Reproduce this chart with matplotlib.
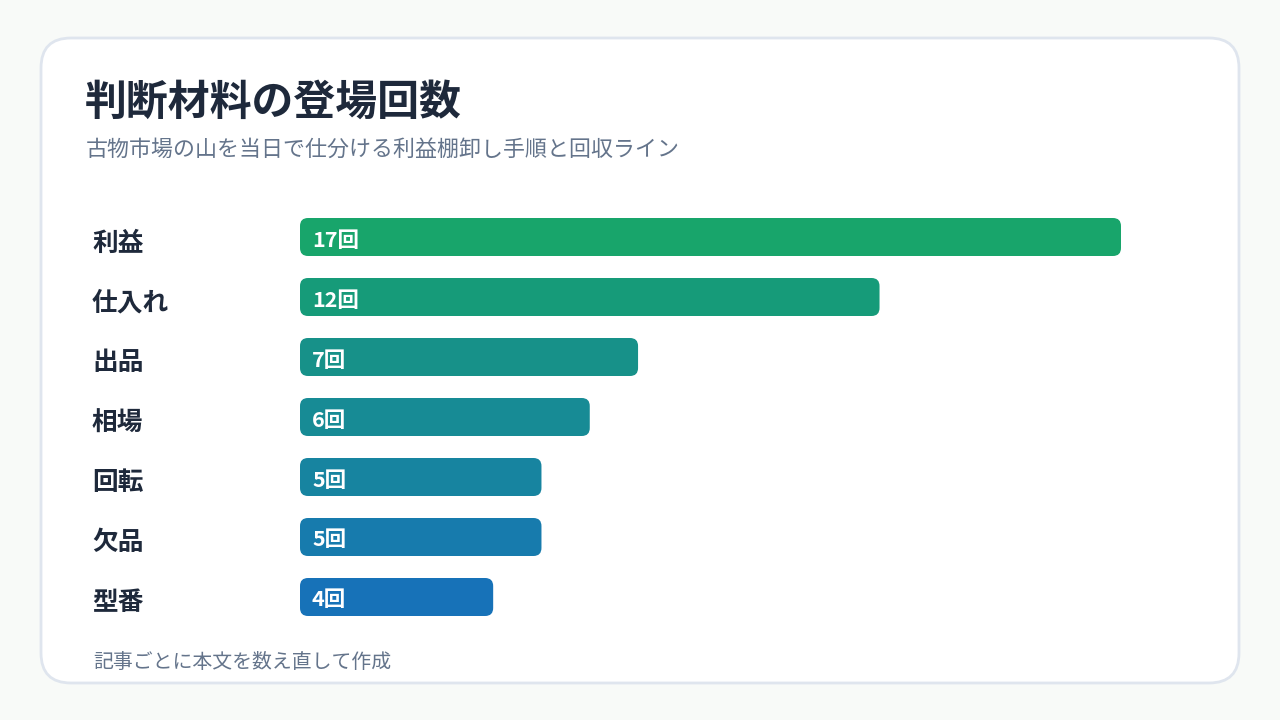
import matplotlib
matplotlib.use("Agg")
import matplotlib.pyplot as plt
from matplotlib.patches import FancyBboxPatch

plt.rcParams['font.family'] = ['Noto Sans CJK JP', 'DejaVu Sans']

title = "判断材料の登場回数"
subtitle = "古物市場の山を当日で仕分ける利益棚卸し手順と回収ライン"
footer = "記事ごとに本文を数え直して作成"
categories = ["利益", "仕入れ", "出品", "相場", "回転", "欠品", "型番"]
values = [17, 12, 7, 6, 5, 5, 4]
unit = "回"
colors = ["#18a56b", "#169b79", "#179189", "#178b95", "#1784a0", "#177bad", "#1772b8"]

W, H = 1280, 720
fig = plt.figure(figsize=(W / 100, H / 100), dpi=100)
fig.patch.set_facecolor("#f8faf8")

# card
card_ax = fig.add_axes([0, 0, 1, 1])
card_ax.set_xlim(0, W)
card_ax.set_ylim(H, 0)
card_ax.axis("off")
card = FancyBboxPatch((41, 38), 1198, 645, boxstyle="round,pad=0,rounding_size=30",
                      facecolor="white", edgecolor="#dfe5ee", linewidth=2)
card_ax.add_patch(card)

fig.text(85 / W, 1 - 103 / H, title, fontsize=30.2, fontweight="bold", color="#1e293b",
         va="center", ha="left")
fig.text(86 / W, 1 - 150 / H, subtitle, fontsize=15.8, color="#64748b",
         va="center", ha="left")
fig.text(93 / W, 1 - 662 / H, footer, fontsize=14.3, color="#64748b",
         va="center", ha="left")

# bar axes: x 300..1121 px for 0..17, rows 207..627 px
left, right = 300, 1121
top, bottom = 207, 627
ax = fig.add_axes([left / W, 1 - bottom / H, (right - left) / W, (bottom - top) / H])
ax.set_xlim(0, max(values))
n = len(categories)
ax.set_ylim(n - 0.5, -0.5)
ax.axis("off")

px_x = (right - left) / max(values)
px_y = (bottom - top) / n
bh = 38 / px_y
r = 8 / px_x
aspect = (8 / px_y) / r

for i, (cat, v, c) in enumerate(zip(categories, values, colors)):
    p = FancyBboxPatch((0, i - bh / 2), v, bh,
                       boxstyle=f"round,pad=0,rounding_size={r}",
                       mutation_aspect=aspect, facecolor=c, edgecolor="none")
    ax.add_patch(p)
    ax.text(12 / px_x, i + 3 / px_y, f"{v}{unit}", color="white", fontsize=15.5,
            fontweight="bold", va="center", ha="left")
    fig.text(92 / W, 1 - (top + (i + 0.5) * px_y + 6) / H, cat, fontsize=18.5,
             fontweight="bold", color="#1e293b", va="center", ha="left")

fig.savefig("out.png", dpi=100, facecolor=fig.get_facecolor())
